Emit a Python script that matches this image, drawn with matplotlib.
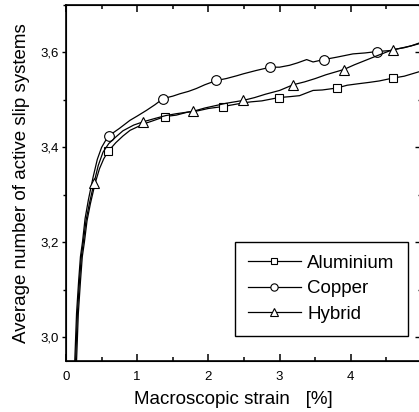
import numpy as np
import matplotlib
matplotlib.use('Agg')
from matplotlib import pyplot as plt
from matplotlib.ticker import MultipleLocator

plt.rcParams['font.family'] = ['Liberation Sans', 'DejaVu Sans']

# strain [%] and average number of active slip systems
alu_x = [0.148, 0.173, 0.204, 0.229, 0.258, 0.295, 0.342, 0.41, 0.47, 0.53, 0.594, 0.70, 0.80, 0.90,
         1.00, 1.10, 1.20, 1.39, 1.55, 1.70, 1.85, 2.00, 2.20, 2.35, 2.50, 2.60, 2.75, 2.99,
         3.15, 3.28, 3.40, 3.47, 3.60, 3.80, 3.95, 4.10, 4.26, 4.40, 4.59, 4.75, 4.95, 5.00]
alu_y = [2.95, 3.05, 3.12, 3.17, 3.20, 3.245, 3.281, 3.325, 3.355, 3.376, 3.392, 3.41, 3.424, 3.436,
         3.443, 3.45, 3.455, 3.465, 3.468, 3.474, 3.477, 3.482, 3.486, 3.490, 3.494, 3.496, 3.498, 3.505,
         3.507, 3.509, 3.516, 3.52, 3.521, 3.525, 3.531, 3.534, 3.537, 3.540, 3.546, 3.550, 3.559, 3.561]
alu_marks = [0.594, 1.39, 2.20, 2.99, 3.80, 4.59]

cu_x = [0.123, 0.148, 0.178, 0.203, 0.231, 0.268, 0.315, 0.38, 0.44, 0.50, 0.55, 0.607, 0.75, 0.898,
        1.00, 1.13, 1.25, 1.365, 1.50, 1.60, 1.72, 1.83, 1.95, 2.113, 2.25, 2.40, 2.49, 2.67,
        2.87, 3.00, 3.14, 3.25, 3.38, 3.47, 3.62, 3.80, 4.03, 4.20, 4.37, 4.55, 4.70, 4.85, 5.00]
cu_y = [2.95, 3.05, 3.12, 3.17, 3.20, 3.25, 3.29, 3.337, 3.375, 3.40, 3.413, 3.425, 3.44, 3.457,
        3.466, 3.478, 3.49, 3.503, 3.508, 3.513, 3.518, 3.524, 3.532, 3.541, 3.545, 3.551, 3.555, 3.562,
        3.569, 3.569, 3.573, 3.578, 3.585, 3.580, 3.585, 3.590, 3.597, 3.599, 3.602, 3.604, 3.609, 3.614, 3.622]
cu_marks = [0.607, 1.365, 2.113, 2.87, 3.62, 4.37]

hyb_x = [0.135, 0.16, 0.19, 0.215, 0.243, 0.28, 0.327, 0.393, 0.453, 0.52, 0.60, 0.70, 0.80, 0.95,
         1.085, 1.25, 1.40, 1.55, 1.785, 1.95, 2.10, 2.25, 2.49, 2.65, 2.80, 3.00, 3.19, 3.35,
         3.50, 3.65, 3.90, 4.05, 4.20, 4.35, 4.59, 4.75, 4.95, 5.00]
hyb_y = [2.95, 3.05, 3.12, 3.17, 3.20, 3.245, 3.281, 3.325, 3.362, 3.39, 3.408, 3.422, 3.435, 3.447,
         3.454, 3.461, 3.467, 3.471, 3.476, 3.483, 3.488, 3.493, 3.499, 3.505, 3.512, 3.52, 3.532, 3.538,
         3.545, 3.553, 3.564, 3.574, 3.583, 3.592, 3.606, 3.610, 3.618, 3.621]
hyb_marks = [0.393, 1.085, 1.785, 2.49, 3.19, 3.90, 4.59]

fig = plt.figure(figsize=(4.19, 4.12), dpi=100)
# the right spine sits just past the edge of the picture, as in the original
ax = fig.add_axes([66/419, 51/412, 356/419, 356/412])

def curve(xs, ys, marks, marker, ms, label):
    idx = [xs.index(m) for m in marks]
    ax.plot(xs, ys, color='black', lw=0.9, marker=marker, markevery=idx, ms=ms,
            mfc='white', mec='black', mew=0.8, label=label)

curve(alu_x, alu_y, alu_marks, 's', 6.0, 'Aluminium')
curve(cu_x, cu_y, cu_marks, 'o', 7.0, 'Copper')
curve(hyb_x, hyb_y, hyb_marks, '^', 7.5, 'Hybrid')

ax.set_xlim(0, 5)
ax.set_ylim(2.95, 3.70)
ax.set_xticks([0, 1, 2, 3, 4])
ax.xaxis.set_minor_locator(MultipleLocator(0.5))
ax.set_yticks([3.0, 3.2, 3.4, 3.6])
ax.set_yticklabels(['3,0', '3,2', '3,4', '3,6'])
ax.yaxis.set_minor_locator(MultipleLocator(0.1))

for s in ax.spines.values():
    s.set_linewidth(1.2)
ax.tick_params(axis='x', which='both', direction='in', top=True, width=1.1, labelsize=9.5, pad=7)
ax.tick_params(axis='x', which='major', length=5)
ax.tick_params(axis='x', which='minor', length=3)
ax.tick_params(axis='y', which='both', direction='out', right=False, width=1.0, labelsize=9.5, pad=2)
ax.tick_params(axis='y', which='major', length=3)
ax.tick_params(axis='y', which='minor', length=2.5)

# inward ticks on the right side
ax2 = ax.twinx()
ax2.set_ylim(ax.get_ylim())
ax2.set_yticks([3.0, 3.2, 3.4, 3.6])
ax2.yaxis.set_minor_locator(MultipleLocator(0.1))
ax2.tick_params(axis='y', which='both', direction='in', labelright=False, width=1.0)
ax2.tick_params(axis='y', which='major', length=5)
ax2.tick_params(axis='y', which='minor', length=3)

ax.set_xlabel('Macroscopic strain   [%]', fontsize=13.5)
ax.set_ylabel('Average number of active slip systems', fontsize=13.5)
ax.xaxis.set_label_coords(0.469, -0.085)
ax.yaxis.set_label_coords(-0.10, 0.5)

leg = ax.legend(loc='lower left', bbox_to_anchor=(0.475, 0.070), borderaxespad=0,
                fontsize=13.5, fancybox=False, framealpha=1, edgecolor='black',
                handlelength=2.8, handletextpad=0.35, labelspacing=0.45, markerscale=0.75,
                borderpad=0.7)
leg.get_frame().set_linewidth(1.0)

fig.savefig('out.png', dpi=100)
